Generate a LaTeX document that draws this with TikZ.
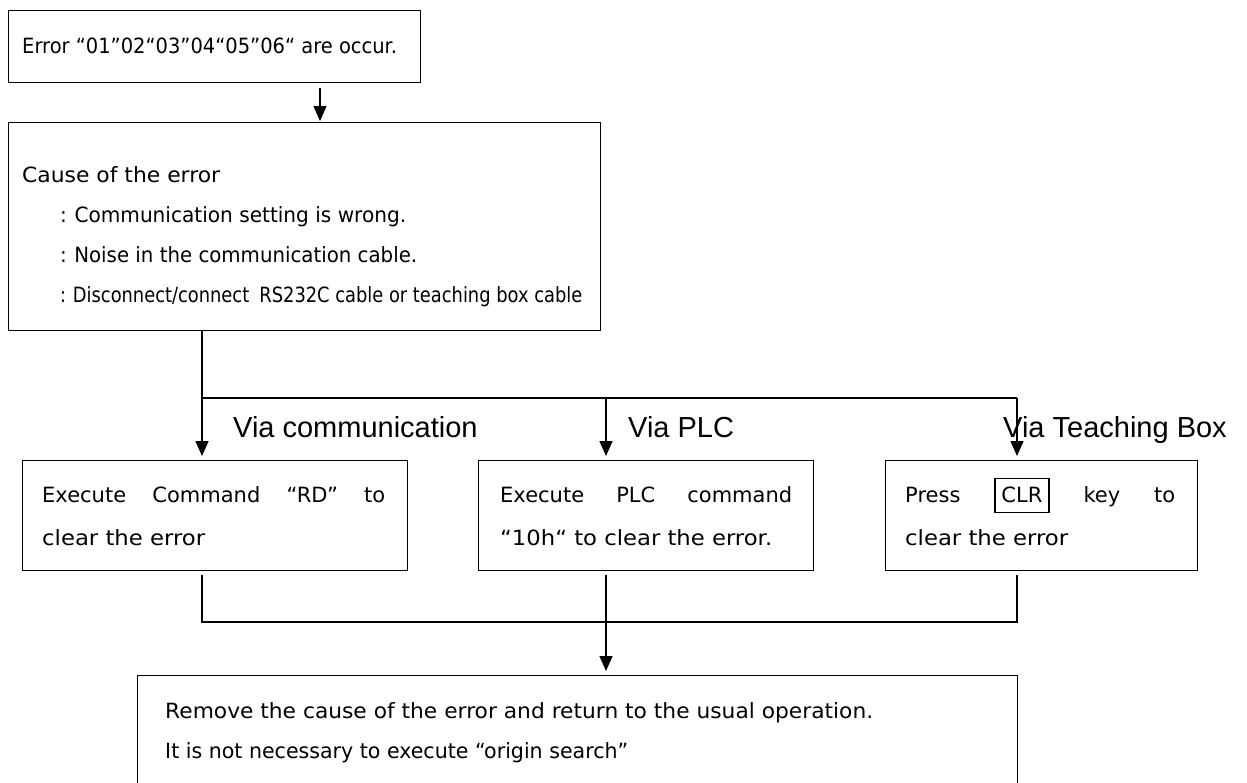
\documentclass[tikz,border=0pt]{standalone}
\usepackage{fontspec}
\usepackage{graphicx}
\setmainfont{DejaVu Sans}
\newfontfamily\labfont{Liberation Sans}
\usetikzlibrary{arrows.meta}
\newcommand\fitline[2]{\resizebox{#1}{\height}{#2}}
\begin{document}
\begin{tikzpicture}[x=1pt,y=-1pt,
  box/.style={draw, line width=1.4pt, inner sep=0pt, anchor=north west},
  txt/.style={anchor=base west, inner sep=0pt, font=\fontsize{21}{24}\selectfont},
  lab/.style={anchor=base west, inner sep=0pt, font=\labfont\fontsize{29}{32}\selectfont},
  conn/.style={line width=1.4pt},
  arr/.style={line width=1.4pt, -{Triangle[width=13pt,length=15pt]}},
]
\useasboundingbox (0,0) rectangle (1247,782);

% boxes
\node[box, minimum width=412, minimum height=72] (b1) at (8,10) {};
\node[box, minimum width=592, minimum height=208] (b2) at (8,122) {};
\node[box, minimum width=385, minimum height=110] (b3) at (22,460) {};
\node[box, minimum width=335, minimum height=110] (b4) at (478,460) {};
\node[box, minimum width=312, minimum height=110] (b5) at (885,460) {};
\node[box, minimum width=880, minimum height=125] (b6) at (137,675) {};

% texts
\node[txt] (t1) at (22,53) {\fitline{375pt}{Error “01”02“03”04“05”06“ are occur.}};
\node[txt] (t2a) at (22,182) {\fitline{198pt}{Cause of the error}};
\node[txt] (t2b) at (60,222) {\fitline{346pt}{\makebox[15pt][l]{:}Communication setting is wrong.}};
\node[txt] (t2c) at (60,262) {\fitline{357pt}{\makebox[15pt][l]{:}Noise in the communication cable.}};
\node[txt] (t2d) at (60,302) {\fitline{522pt}{\makebox[15pt][l]{:}Disconnect/connect\hspace{12pt}RS232C cable or teaching box cable}};
\node[txt] (t3a) at (42,502) {\hbox to 343pt{Execute\hfill Command\hfill “RD”\hfill to}};
\node[txt] (t3b) at (42,545) {\fitline{163pt}{clear the error}};
\node[txt] (t4a) at (500,502) {\hbox to 292pt{Execute\hfill PLC\hfill command}};
\node[txt] (t4b) at (500,545) {\fitline{272pt}{“10h“ to clear the error.}};
\node[txt] (t5a) at (905,502) {\setlength{\fboxsep}{2pt}\setlength{\fboxrule}{1.2pt}\hbox to 270pt{Press\hfill\fbox{\rule[-8pt]{0pt}{29pt}\hspace{4pt}CLR\hspace{4pt}}\hfill key\hfill to}};
\node[txt] (t5b) at (905,545) {\fitline{163pt}{clear the error}};
\node[txt] (t6a) at (165,718) {\fitline{708pt}{Remove the cause of the error and return to the usual operation.}};
\node[txt] (t6b) at (165,758) {\fitline{463pt}{It is not necessary to execute “origin search”}};

% labels
\node[lab] (l1) at (233,437) {Via communication};
\node[lab] (l2) at (628,437) {Via PLC};
\node[lab] (l3) at (1003,437) {Via Teaching Box};

% connectors
\coordinate (a1) at (320,88);
\draw[arr, shorten >=1pt] (a1) -- (a1 |- b2.north);

\coordinate (j1) at (202,398);
\coordinate (j2) at (606,398);
\coordinate (j3) at (1017,398);
\draw[conn] (b2.south -| j1) -- (j1) -- (j3);
\draw[arr, shorten >=4pt] (j1) -- (b3.north -| j1);
\draw[arr, shorten >=4pt] (j2) -- (b4.north -| j2);
\draw[arr, shorten >=4pt] (j3) -- (b5.north -| j3);

\coordinate (k1) at (202,622);
\coordinate (k2) at (606,622);
\coordinate (k3) at (1017,622);
\draw[conn, shorten <=4pt, shorten >=4pt] (b3.south -| k1) -- (k1) -- (k3) -- (b5.south -| k3);
\draw[arr, shorten >=4pt] (b4.south -| k2) ++(0,4) -- (b6.north -| k2);
\end{tikzpicture}
\end{document}
